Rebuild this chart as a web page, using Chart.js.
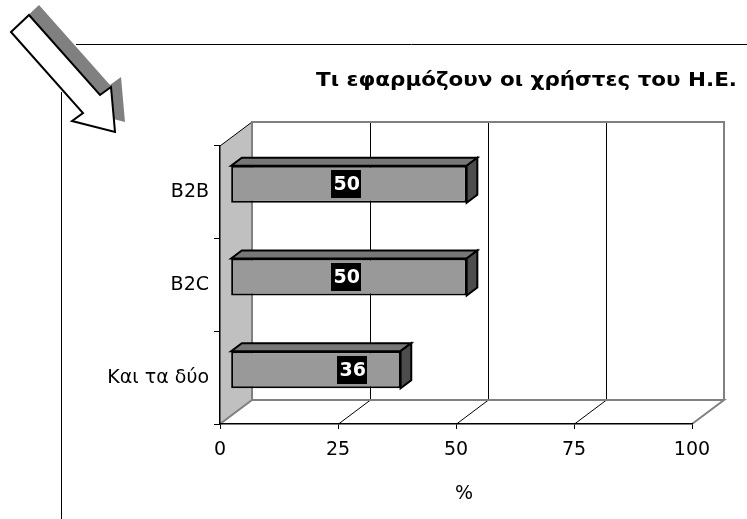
<!DOCTYPE html>
<html>
<head>
<meta charset="utf-8">
<script src="https://cdn.jsdelivr.net/npm/chart.js@4/dist/chart.umd.min.js"></script>
<style>
  html, body { margin: 0; padding: 0; background: #fff; }
  canvas { display: block; }
</style>
</head>
<body>
<canvas id="chart" width="747" height="519"></canvas>
<script>
// Survey answers: share of users (%) applying each e-commerce model
const categories = ['B2B', 'B2C', 'Και τα δύο'];
const shares = [50, 50, 36];
const tickValues = [0, 25, 50, 75, 100];
const chartTitle = 'Τι εφαρμόζουν οι χρήστες του Η.Ε.';
const axisTitle = '%';

// Oblique projection of the 3-D plot box (back plane offset)
const DEPTH_X = 32;
const DEPTH_Y = -24;
const FONT = '"DejaVu Sans", Verdana, sans-serif';

function poly(ctx, pts, fill, stroke, width) {
  ctx.beginPath();
  ctx.moveTo(pts[0][0], pts[0][1]);
  for (let i = 1; i < pts.length; i++) ctx.lineTo(pts[i][0], pts[i][1]);
  ctx.closePath();
  if (fill) { ctx.fillStyle = fill; ctx.fill(); }
  if (stroke) { ctx.strokeStyle = stroke; ctx.lineWidth = width || 1; ctx.stroke(); }
}

function line(ctx, x1, y1, x2, y2, color, width) {
  ctx.beginPath();
  ctx.moveTo(x1, y1);
  ctx.lineTo(x2, y2);
  ctx.strokeStyle = color;
  ctx.lineWidth = width;
  ctx.stroke();
}

// Slide frame: corner arrow with drop shadow and the two rules
function drawFrame(ctx) {
  line(ctx, 76, 44.5, 747, 44.5, '#000', 1);
  line(ctx, 61.5, 92, 61.5, 519, '#000', 1);
  const arrow = [[11, 32], [29, 15], [100, 95], [111, 87], [115, 132], [72, 121], [83, 113]];
  ctx.save();
  ctx.translate(10, -10);
  poly(ctx, arrow, '#808080');
  ctx.restore();
  ctx.lineJoin = 'miter';
  poly(ctx, arrow, '#fff', '#000', 2);
}

const box3d = {
  id: 'box3d',
  beforeDraw(chart) {
    const ctx = chart.ctx;
    const { left: L, right: R, top: T, bottom: B } = chart.chartArea;
    const xs = chart.scales.x;
    ctx.save();
    ctx.fillStyle = '#fff';
    ctx.fillRect(0, 0, chart.width, chart.height);
    drawFrame(ctx);

    // title, set wide like the slide's heading face
    ctx.save();
    ctx.font = 'bold 19px ' + FONT;
    ctx.fillStyle = '#000';
    ctx.textAlign = 'right';
    ctx.textBaseline = 'middle';
    ctx.translate(737, 81);
    ctx.scale(1.13, 1);
    ctx.fillText(chartTitle, 0, 0);
    ctx.restore();

    const dx = DEPTH_X, dy = DEPTH_Y;
    // back wall and floor
    poly(ctx, [[L + dx, T + dy], [R + dx, T + dy], [R + dx, B + dy], [L + dx, B + dy]], '#fff');
    // gridlines on the back wall and across the floor
    xs.ticks.forEach(t => {
      if (t.value <= xs.min || t.value >= xs.max) return;
      const px = Math.round(xs.getPixelForValue(t.value)) + 0.5;
      line(ctx, px + dx, T + dy, px + dx, B + dy, '#000', 1);
      line(ctx, px, B, px + dx, B + dy, '#000', 1);
    });
    // left wall
    poly(ctx, [[L, B], [L + dx, B + dy], [L + dx, T + dy], [L, T]], '#c0c0c0');
    line(ctx, L, T, L + dx, T + dy, '#000', 1);
    ctx.lineJoin = 'miter';
    ctx.beginPath();
    ctx.moveTo(L, B);
    ctx.lineTo(L + dx, B + dy);
    ctx.lineTo(R + dx, B + dy);
    ctx.lineTo(R, B);
    ctx.moveTo(L + dx, B + dy);
    ctx.lineTo(L + dx, T + dy);
    ctx.lineTo(R + dx, T + dy);
    ctx.lineTo(R + dx, B + dy);
    ctx.strokeStyle = '#808080';
    ctx.lineWidth = 2;
    ctx.stroke();
    ctx.restore();
  },
  beforeDatasetsDraw(chart) {
    // bars stand one third of the way into the box
    chart.ctx.save();
    chart.ctx.translate(DEPTH_X / 3, DEPTH_Y / 3);
  },
  afterDatasetsDraw(chart) {
    const ctx = chart.ctx;
    const bx = DEPTH_X / 3, by = DEPTH_Y / 3;
    const meta = chart.getDatasetMeta(0);
    ctx.lineJoin = 'miter';
    meta.data.forEach(bar => {
      const p = bar.getProps(['x', 'y', 'base', 'height'], true);
      const top = p.y - p.height / 2, bot = p.y + p.height / 2;
      poly(ctx, [[p.base, top], [p.x, top], [p.x + bx, top + by], [p.base + bx, top + by]], '#777777', '#000', 2);
      poly(ctx, [[p.x, top], [p.x + bx, top + by], [p.x + bx, bot + by], [p.x, bot]], '#4d4d4d', '#000', 2);
    });
    ctx.restore();

    // value labels: white figures on black boxes
    const xs = chart.scales.x;
    ctx.save();
    ctx.font = 'bold 19px ' + FONT;
    ctx.textAlign = 'center';
    ctx.textBaseline = 'middle';
    meta.data.forEach((bar, i) => {
      const p = bar.getProps(['y'], true);
      const text = String(shares[i]);
      const cx = xs.getPixelForValue(xs.max / 4) + bx + (shares[i] < xs.max / 2 ? 4 : -2);
      const cy = p.y + by;
      const w = ctx.measureText(text).width + 4;
      const h = 28;
      ctx.fillStyle = '#000';
      ctx.fillRect(Math.round(cx - w / 2), Math.round(cy - h / 2), Math.round(w), h);
      ctx.fillStyle = '#fff';
      ctx.fillText(text, cx, cy + 1);
    });
    ctx.restore();
  },
  afterDraw(chart) {
    const ctx = chart.ctx;
    const { left: L, right: R } = chart.chartArea;
    ctx.save();
    ctx.font = '19px ' + FONT;
    ctx.fillStyle = '#000';
    ctx.textAlign = 'center';
    ctx.textBaseline = 'middle';
    ctx.fillText(axisTitle, (L + R) / 2 + DEPTH_X / 4, 494);
    ctx.restore();
  }
};

new Chart(document.getElementById('chart'), {
  type: 'bar',
  data: {
    labels: categories,
    datasets: [{
      data: shares,
      backgroundColor: '#999999',
      borderColor: '#000',
      borderWidth: 2,
      borderSkipped: false,
      categoryPercentage: 0.8,
      barPercentage: 0.5,
      clip: false
    }]
  },
  options: {
    indexAxis: 'y',
    responsive: false,
    animation: false,
    devicePixelRatio: 1,
    layout: { padding: { top: 146, right: 55, left: 0, bottom: 0 } },
    plugins: { legend: { display: false }, tooltip: { enabled: false }, title: { display: false } },
    scales: {
      x: {
        type: 'linear',
        min: 0,
        max: 100,
        afterBuildTicks(scale) { scale.ticks = tickValues.map(v => ({ value: v })); },
        afterFit(scale) { scale.height = 95; },
        grid: { drawOnChartArea: false, drawTicks: true, tickLength: 5, color: '#000', lineWidth: 1 },
        border: { display: true, color: '#000', width: 1.5 },
        ticks: { color: '#000', font: { family: FONT, size: 19 }, padding: 10, maxRotation: 0 }
      },
      y: {
        type: 'category',
        afterFit(scale) { scale.width = 220; },
        grid: { drawOnChartArea: false, drawTicks: true, tickLength: 6, color: '#000', lineWidth: 1, offset: true },
        border: { display: true, color: '#000', width: 1.5 },
        ticks: { color: '#000', font: { family: FONT, size: 19 }, padding: 5 }
      }
    }
  },
  plugins: [box3d]
});
</script>
</body>
</html>
